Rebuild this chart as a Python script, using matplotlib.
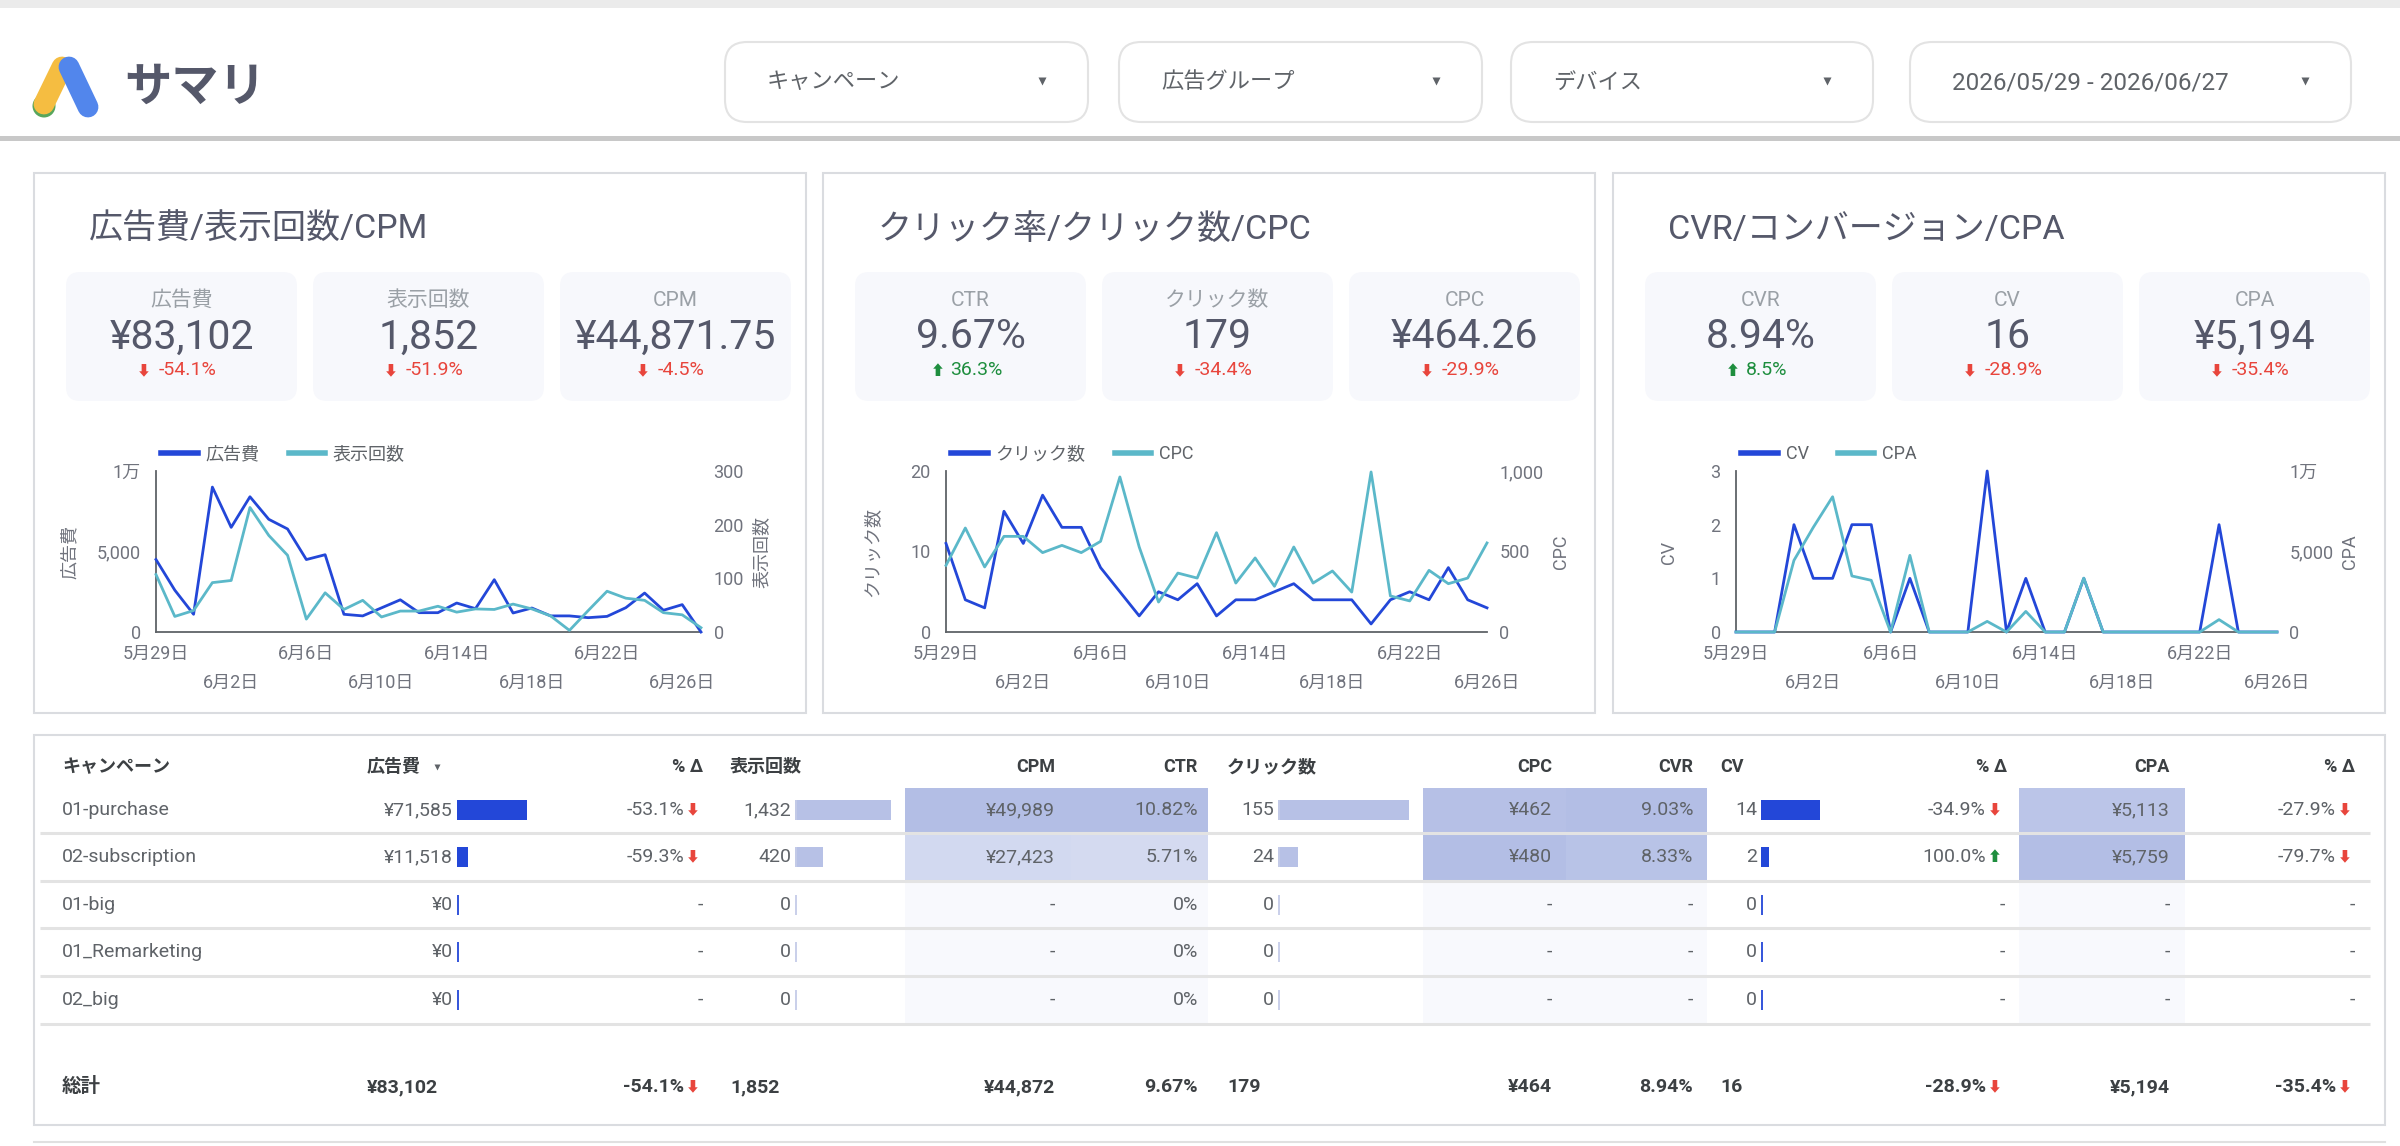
import numpy as np
import pandas as pd
import matplotlib
matplotlib.use('Agg')
import matplotlib.pyplot as plt
from matplotlib.patches import FancyBboxPatch, Rectangle, Circle
from matplotlib.lines import Line2D
from matplotlib.colors import to_rgb

plt.rcParams['font.family'] = ['Roboto', 'Noto Sans CJK JP', 'DejaVu Sans']

W, H = 2400, 1146

# ---- daily series ----
days = pd.date_range('2026-05-29', periods=30)
day_labels = [f'{d.month}月{d.day}日' for d in days]

spend = [4500, 2600, 1100, 9000, 6500, 8400, 7000, 6400, 4500, 4800, 1100, 1000, 1500, 2000, 1200,
         1200, 1800, 1450, 3250, 1180, 1490, 1000, 1000, 890, 970, 1510, 2420, 1350, 1700, 0]
impressions = [107, 29, 40, 92, 96, 232, 180, 143, 24, 73, 42, 59, 28, 39, 39,
               48, 37, 43, 42, 52, 43, 30, 3, 40, 76, 63, 59, 36, 32, 8]
clicks = [11, 4, 3, 15, 11, 17, 13, 13, 8, 5, 2, 5, 4, 6, 2,
          4, 4, 5, 6, 4, 4, 4, 1, 4, 5, 4, 8, 4, 3]
cpc = [414, 646, 404, 594, 594, 493, 538, 493, 563, 963, 528, 186, 366, 335, 617,
       304, 460, 284, 528, 304, 379, 248, 994, 224, 193, 383, 300, 335, 553]
cv = [0, 0, 0, 2, 1, 1, 2, 2, 0, 1, 0, 0, 0, 3, 0,
      1, 0, 0, 1, 0, 0, 0, 0, 0, 0, 2, 0, 0, 0]
cpa = [0, 0, 0, 4450, 6500, 8400, 3480, 3210, 0, 4760, 0, 0, 0, 660, 0,
       1280, 0, 0, 3350, 0, 0, 0, 0, 0, 0, 770, 0, 0, 0]

# ---- scorecards ----
panel_titles = ['広告費/表示回数/CPM', 'クリック率/クリック数/CPC', 'CVR/コンバージョン/CPA']
card_labels = [['広告費', '表示回数', 'CPM'], ['CTR', 'クリック数', 'CPC'], ['CVR', 'CV', 'CPA']]
card_values = [['¥83,102', '1,852', '¥44,871.75'], ['9.67%', '179', '¥464.26'], ['8.94%', '16', '¥5,194']]
card_deltas = [[-54.1, -51.9, -4.5], [36.3, -34.4, -29.9], [8.5, -28.9, -35.4]]

# ---- table ----
campaigns = ['01-purchase', '02-subscription', '01-big', '01_Remarketing', '02_big']
t_spend = [71585, 11518, 0, 0, 0]
t_spend_d = [-53.1, -59.3, None, None, None]
t_impr = [1432, 420, 0, 0, 0]
t_cpm = [49989, 27423, None, None, None]
t_ctr = [10.82, 5.71, 0, 0, 0]
t_clicks = [155, 24, 0, 0, 0]
t_cpc = [462, 480, None, None, None]
t_cvr = [9.03, 8.33, None, None, None]
t_cv = [14, 2, 0, 0, 0]
t_cv_d = [-34.9, 100.0, None, None, None]
t_cpa = [5113, 5759, None, None, None]
t_cpa_d = [-27.9, -79.7, None, None, None]
totals = {'spend': '¥83,102', 'spend_d': -54.1, 'impr': '1,852', 'cpm': '¥44,872', 'ctr': '9.67%',
          'clicks': '179', 'cpc': '¥464', 'cvr': '8.94%', 'cv': '16', 'cv_d': -28.9,
          'cpa': '¥5,194', 'cpa_d': -35.4}

BLUE = '#2347d8'
TEAL = '#5bb8c9'
LIGHTBAR = '#b7c1e6'
TXT = '#5f6368'
DARK = '#55586a'
RED = '#e8453c'
GREEN = '#1e8e3e'
AXIS = '#5f6368'

fig = plt.figure(figsize=(W / 100, H / 100), dpi=100, facecolor='white')
bg = fig.add_axes([0, 0, 1, 1])
bg.set_xlim(0, W)
bg.set_ylim(H, 0)
bg.axis('off')


def px_rect(l, t, r, b):
    return [l / W, 1 - b / H, (r - l) / W, (b - t) / H]


def rbox(x, y, w, h, r, fc, ec='none', lw=0):
    bg.add_patch(FancyBboxPatch((x, y), w, h, boxstyle=f'round,pad=0,rounding_size={r}',
                                fc=fc, ec=ec, lw=lw))


def arrow_txt(d):
    return '⬇' if d < 0 else '⬆'


# ---- header ----
bg.add_patch(Rectangle((0, 0), W, 8, color='#ebebeb', lw=0))
bg.add_patch(Rectangle((0, 136), W, 5, color='#c8c8c8', lw=0))
bg.plot([62, 44], [67, 104], color='#f5bd41', lw=15, solid_capstyle='round')
bg.add_patch(Circle((44, 106), 11.5, color='#58a65c', lw=0))
bg.plot([69, 88], [67, 107], color='#5286ec', lw=15, solid_capstyle='round')
bg.text(124, 88, 'サマリ', fontsize=34, fontweight='bold', color=DARK, va='center', ha='left')

dropdowns = ['キャンペーン', '広告グループ', 'デバイス', '2026/05/29 - 2026/06/27']
dd_x = [725, 1119, 1511, 1910]
dd_w = [363, 363, 362, 441]
dd_fs = [16, 16, 16, 17.5]
for name, x, w, fs in zip(dropdowns, dd_x, dd_w, dd_fs):
    rbox(x, 42, w, 80, 22, 'white', '#e3e3e3', 1.5)
    bg.text(x + 42, 83, name, fontsize=fs, color=TXT, va='center', ha='left')
    bg.plot(x + w - 46, 81, marker='v', ms=6, color='#5f6368', mec='none')

# ---- KPI panels ----
panel_x = [34, 823, 1613]
for p, px in enumerate(panel_x):
    bg.add_patch(Rectangle((px, 173), 772, 540, fc='white', ec='#dadce0', lw=1.5))
    bg.text(px + 55, 230, panel_titles[p], fontsize=24.5, color=DARK, va='center', ha='left')
    for c in range(3):
        cx = px + 32 + c * 247
        rbox(cx, 272, 231, 129, 14, '#f7f8fc')
        mid = cx + 115.5
        bg.text(mid, 300, card_labels[p][c], fontsize=15, color='#9aa0a6', ha='center', va='center')
        bg.text(mid, 337, card_values[p][c], fontsize=29.5, color=DARK, ha='center', va='center')
        d = card_deltas[p][c]
        col = RED if d < 0 else GREEN
        t = bg.text(mid + 6, 370, f'{d:.1f}%', fontsize=14, color=col, ha='center', va='center')
        half = len(f'{d:.1f}%') * 5.2
        bg.text(mid + 6 - half - 6, 371, arrow_txt(d), fontsize=10, color=col, ha='right', va='center')


def add_chart(left, right, s1, s2, names, lim1, ticks1, tl1, lim2, ticks2, tl2, ylab_x):
    ax = fig.add_axes(px_rect(left, 471, right, 632))
    x = np.arange(len(s1))
    ax.plot(x, s1, color=BLUE, lw=2.0, clip_on=False, zorder=3)
    ax2 = ax.twinx()
    ax2.plot(x, s2, color=TEAL, lw=2.0, clip_on=False, zorder=3)
    ax.set_xlim(0, len(s1) - 1)
    ax.set_ylim(*lim1)
    ax2.set_ylim(*lim2)
    ax.set_yticks(ticks1, tl1)
    ax2.set_yticks(ticks2, tl2)
    major = list(range(0, len(s1), 8))
    minor = list(range(4, len(s1), 8))
    ax.set_xticks(major, [day_labels[i] for i in major])
    ax.set_xticks(minor, [day_labels[i] for i in minor], minor=True)
    ax.tick_params(axis='x', which='major', length=0, pad=9, labelsize=13, colors='#70737d')
    ax.tick_params(axis='x', which='minor', length=0, pad=30, labelsize=13, colors='#70737d')
    ax.tick_params(axis='y', length=0, pad=11, labelsize=13, colors='#70737d')
    ax2.tick_params(axis='y', length=0, pad=9, labelsize=13, colors='#70737d')
    for s in ['top', 'right']:
        ax.spines[s].set_visible(False)
    for s in ax2.spines.values():
        s.set_visible(False)
    for s in ['left', 'bottom']:
        ax.spines[s].set_color(AXIS)
        ax.spines[s].set_linewidth(1.3)
    ax.set_facecolor('none')
    handles = [Line2D([], [], color=BLUE, lw=4), Line2D([], [], color=TEAL, lw=4)]
    ax.legend(handles, names, loc='lower left', bbox_to_anchor=(0.01, 1.05), ncol=2, frameon=False,
              fontsize=13, handlelength=2.0, handletextpad=0.45, columnspacing=1.6,
              borderaxespad=0, borderpad=0, labelcolor='#5f6368')
    bg.text(ylab_x[0], 552, names[0], rotation=90, fontsize=13, color='#70737d', ha='center', va='center')
    bg.text(ylab_x[1], 552, names[1], rotation=90, fontsize=13, color='#70737d', ha='center', va='center')


add_chart(156, 701, spend, impressions, ['広告費', '表示回数'],
          (0, 10000), [0, 5000, 10000], ['0', '5,000', '1万'],
          (0, 300), [0, 100, 200, 300], ['0', '100', '200', '300'], (70, 762))
add_chart(946, 1487, clicks, cpc, ['クリック数', 'CPC'],
          (0, 20), [0, 10, 20], ['0', '10', '20'],
          (0, 1000), [0, 500, 1000], ['0', '500', '1,000'], (872, 1561))
add_chart(1736, 2277, cv, cpa, ['CV', 'CPA'],
          (0, 3), [0, 1, 2, 3], ['0', '1', '2', '3'],
          (0, 10000), [0, 5000, 10000], ['0', '5,000', '1万'], (1669, 2350))

# ---- table ----
bg.add_patch(Rectangle((34, 735), 2351, 390, fc='white', ec='#dadce0', lw=1.5, zorder=0.8))
HY = 767
FS = 14
headers = [('キャンペーン', 62, 'left'), ('広告費', 367, 'left'), ('% Δ', 703, 'right'),
           ('表示回数', 730, 'left'), ('CPM', 1055, 'right'), ('CTR', 1198, 'right'),
           ('クリック数', 1227, 'left'), ('CPC', 1552, 'right'), ('CVR', 1693, 'right'),
           ('CV', 1720, 'left'), ('% Δ', 2007, 'right'), ('CPA', 2170, 'right'), ('% Δ', 2355, 'right')]
for t, x, ha in headers:
    bg.text(x, HY, t, fontsize=13, fontweight='bold', color='#3c4043', ha=ha, va='center')
bg.plot(437, HY, marker='v', ms=5, color='#5f6368', mec='none')

row_y = np.array([810, 857, 905, 952, 1000])
for y in [833, 881, 928, 976, 1024]:
    bg.plot([40, 2370], [y, y], color='#e3e3e3', lw=2.2, solid_capstyle='butt', zorder=1.6)


def heat(vals, x0, x1):
    clean = [0 if v is None else v for v in vals]
    top = max(clean)
    lo, hi = np.array(to_rgb('#f8f9fd')), np.array(to_rgb('#b3bee5'))
    for y, v in zip(row_y, clean):
        bg.add_patch(Rectangle((x0, y - 22), x1 - x0, 45, fc=lo + (hi - lo) * v / top, lw=0, zorder=1.2))


heat(t_cpm, 905, 1071)
heat(t_ctr, 1071, 1208)
heat(t_cpc, 1423, 1566)
heat(t_cvr, 1566, 1707)
heat(t_cpa, 2019, 2185)


def bar_col(vals, xr, maxpx, color, line_color, fmt=lambda v: f'{v:,}'):
    for y, v in zip(row_y, vals):
        bg.text(xr, y, fmt(v), fontsize=FS, color=TXT, ha='right', va='center')
    w = np.array(vals, dtype=float) / max(vals) * maxpx
    bg.barh(row_y, w, left=xr + 4, height=20, color=color, zorder=2)
    bg.vlines(np.full(len(vals), xr + 4.5), row_y - 10, row_y + 10, color=line_color, lw=1.3, zorder=3)


def text_col(vals, xr, fmt):
    for y, v in zip(row_y, vals):
        bg.text(xr, y, '-' if v is None else fmt(v), fontsize=FS, color=TXT, ha='right', va='center', zorder=3)


def delta_col(vals, xr):
    for y, v in zip(row_y, vals):
        if v is None:
            bg.text(xr + 19, y, '-', fontsize=FS, color=TXT, ha='right', va='center')
        else:
            bg.text(xr, y, f'{v:.1f}%', fontsize=FS, color=TXT, ha='right', va='center')
            bg.text(xr + 9, y, arrow_txt(v), fontsize=10, color=RED if v < 0 else GREEN,
                    ha='center', va='center')


for y, name in zip(row_y, campaigns):
    bg.text(62, y, name, fontsize=FS, color=TXT, ha='left', va='center')

bar_col(t_spend, 453, 70, BLUE, BLUE, fmt=lambda v: f'¥{v:,}')
delta_col(t_spend_d, 684)
bar_col(t_impr, 791, 96, LIGHTBAR, '#c5cce8')
text_col(t_cpm, 1055, lambda v: f'¥{v:,}')
text_col(t_ctr, 1198, lambda v: f'{v:.2f}%' if v else '0%')
bar_col(t_clicks, 1274, 131, LIGHTBAR, '#c5cce8')
text_col(t_cpc, 1552, lambda v: f'¥{v:,}')
text_col(t_cvr, 1693, lambda v: f'{v:.2f}%')
bar_col(t_cv, 1757, 59, BLUE, BLUE)
delta_col(t_cv_d, 1986)
text_col(t_cpa, 2170, lambda v: f'¥{v:,}')
delta_col(t_cpa_d, 2336)

# totals row
TY = 1087
tot = [('総計', 62, 'left'), (totals['spend'], 367, 'left'), (f"{totals['spend_d']:.1f}%", 684, 'right'),
       (totals['impr'], 730, 'left'), (totals['cpm'], 1055, 'right'), (totals['ctr'], 1198, 'right'),
       (totals['clicks'], 1227, 'left'), (totals['cpc'], 1552, 'right'), (totals['cvr'], 1693, 'right'),
       (totals['cv'], 1720, 'left'), (f"{totals['cv_d']:.1f}%", 1986, 'right'), (totals['cpa'], 2170, 'right'),
       (f"{totals['cpa_d']:.1f}%", 2336, 'right')]
for t, x, ha in tot:
    bg.text(x, TY, t, fontsize=FS, fontweight='bold', color='#3c4043', ha=ha, va='center')
for x in [693, 1995, 2345]:
    bg.text(x, TY, '⬇', fontsize=10, color=RED, ha='center', va='center')

bg.plot([34, 2385], [1142, 1142], color='#e0e0e0', lw=1.5)

fig.savefig('out.png', dpi=100, facecolor='white')
